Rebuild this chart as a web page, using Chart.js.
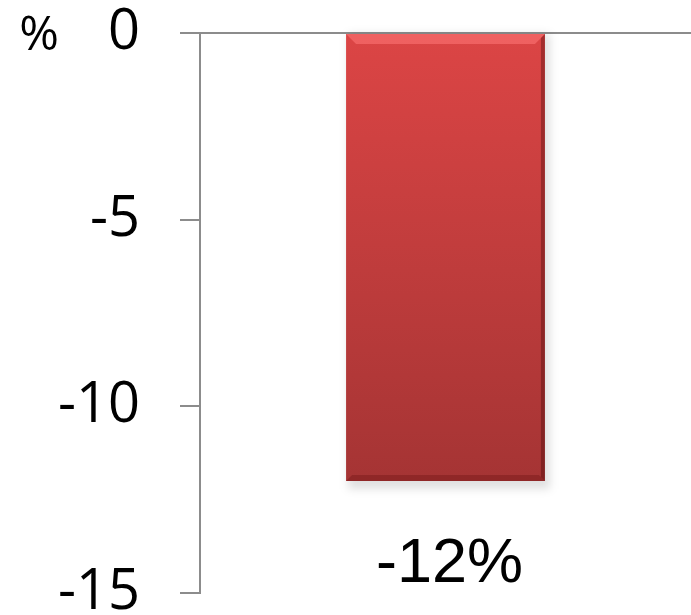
<!DOCTYPE html>
<html>
<head>
<meta charset="utf-8">
<script src="https://cdn.jsdelivr.net/npm/chart.js@4"></script>
<style>
  html, body { margin: 0; padding: 0; background: #ffffff; }
  #wrap { width: 691px; height: 615px; position: relative; }
</style>
</head>
<body>
<div id="wrap"><canvas id="c" width="691" height="615"></canvas></div>
<script>
const categories = ["-12%"];
const values = [-12];
const yTicks = [0, -5, -10, -15];
const unitLabel = "%";

const barGradient = (context) => {
  const chart = context.chart;
  const area = chart.chartArea;
  if (!area) return '#d44040';
  const y0 = chart.scales.y.getPixelForValue(0);
  const y1 = chart.scales.y.getPixelForValue(values[0]);
  const g = chart.ctx.createLinearGradient(0, y0, 0, y1);
  g.addColorStop(0, '#dc4545');
  g.addColorStop(1, '#a53434');
  return g;
};

const extras = {
  id: 'extras',
  beforeDatasetsDraw(chart) {
    const ctx = chart.ctx;
    const meta = chart.getDatasetMeta(0);
    ctx.save();
    meta.data.forEach((bar) => {
      const p = bar.getProps(['x', 'y', 'base', 'width'], true);
      ctx.fillStyle = 'rgba(0,0,0,0.12)';
      ctx.filter = 'blur(4px)';
      ctx.fillRect(p.x - p.width / 2 + 2, p.base, p.width + 3, p.y - p.base + 8);
    });
    ctx.restore();
  },
  afterDatasetsDraw(chart) {
    const ctx = chart.ctx;
    const meta = chart.getDatasetMeta(0);
    ctx.save();
    meta.data.forEach((bar, i) => {
      const p = bar.getProps(['x', 'y', 'base', 'width'], true);
      const l = p.x - p.width / 2, r = p.x + p.width / 2;
      ctx.fillStyle = 'rgba(255,120,120,0.55)';
      ctx.beginPath();
      ctx.moveTo(l, p.base); ctx.lineTo(r, p.base); ctx.lineTo(r - 10, p.base + 10); ctx.lineTo(l + 10, p.base + 10); ctx.closePath();
      ctx.fill();
      ctx.fillStyle = 'rgba(60,0,0,0.35)';
      ctx.beginPath();
      ctx.moveTo(r, p.base); ctx.lineTo(r, p.y); ctx.lineTo(r - 4, p.y - 4); ctx.lineTo(r - 4, p.base + 4); ctx.closePath();
      ctx.fill();
      ctx.fillStyle = 'rgba(80,0,0,0.25)';
      ctx.beginPath();
      ctx.moveTo(l, p.y); ctx.lineTo(r, p.y); ctx.lineTo(r - 6, p.y - 6); ctx.lineTo(l + 6, p.y - 6); ctx.closePath();
      ctx.fill();
      ctx.fillStyle = '#000000';
      ctx.font = '63px "Liberation Sans", Arial, sans-serif';
      ctx.textAlign = 'center';
      ctx.textBaseline = 'alphabetic';
      ctx.fillText(categories[i], p.x + 4, 582);
    });
    ctx.restore();
    ctx.save();
    ctx.fillStyle = '#000000';
    ctx.font = '48px "Open Sans", sans-serif';
    ctx.textAlign = 'center';
    ctx.textBaseline = 'middle';
    ctx.fillText(unitLabel, 39, 36);
    ctx.restore();
  }
};

new Chart(document.getElementById('c'), {
  type: 'bar',
  data: {
    labels: categories,
    datasets: [{
      data: values,
      backgroundColor: barGradient,
      borderWidth: 0,
      categoryPercentage: 1,
      barPercentage: 0.405
    }]
  },
  options: {
    responsive: false,
    animation: false,
    events: [],
    layout: { padding: { top: 33, right: 0, bottom: 22, left: 0 } },
    plugins: { legend: { display: false }, tooltip: { enabled: false } },
    scales: {
      x: {
        display: false
      },
      y: {
        min: -15,
        max: 0,
        afterFit(scale) { scale.width = 200; scale.paddingTop = 0; scale.paddingBottom = 0; },
        afterBuildTicks(scale) { scale.ticks = yTicks.map(v => ({ value: v })); },
        grid: {
          drawOnChartArea: true,
          drawTicks: true,
          tickLength: 20,
          lineWidth: 2,
          color: (c) => (c.tick && c.tick.value === 0) ? '#8c8c8c' : 'rgba(0,0,0,0)',
          tickColor: '#8c8c8c'
        },
        border: { display: true, color: '#8c8c8c', width: 2 },
        ticks: {
          padding: 40,
          color: '#000000',
          font: { family: '"Open Sans", sans-serif', size: 56 }
        }
      }
    }
  },
  plugins: [extras]
});
</script>
</body>
</html>
